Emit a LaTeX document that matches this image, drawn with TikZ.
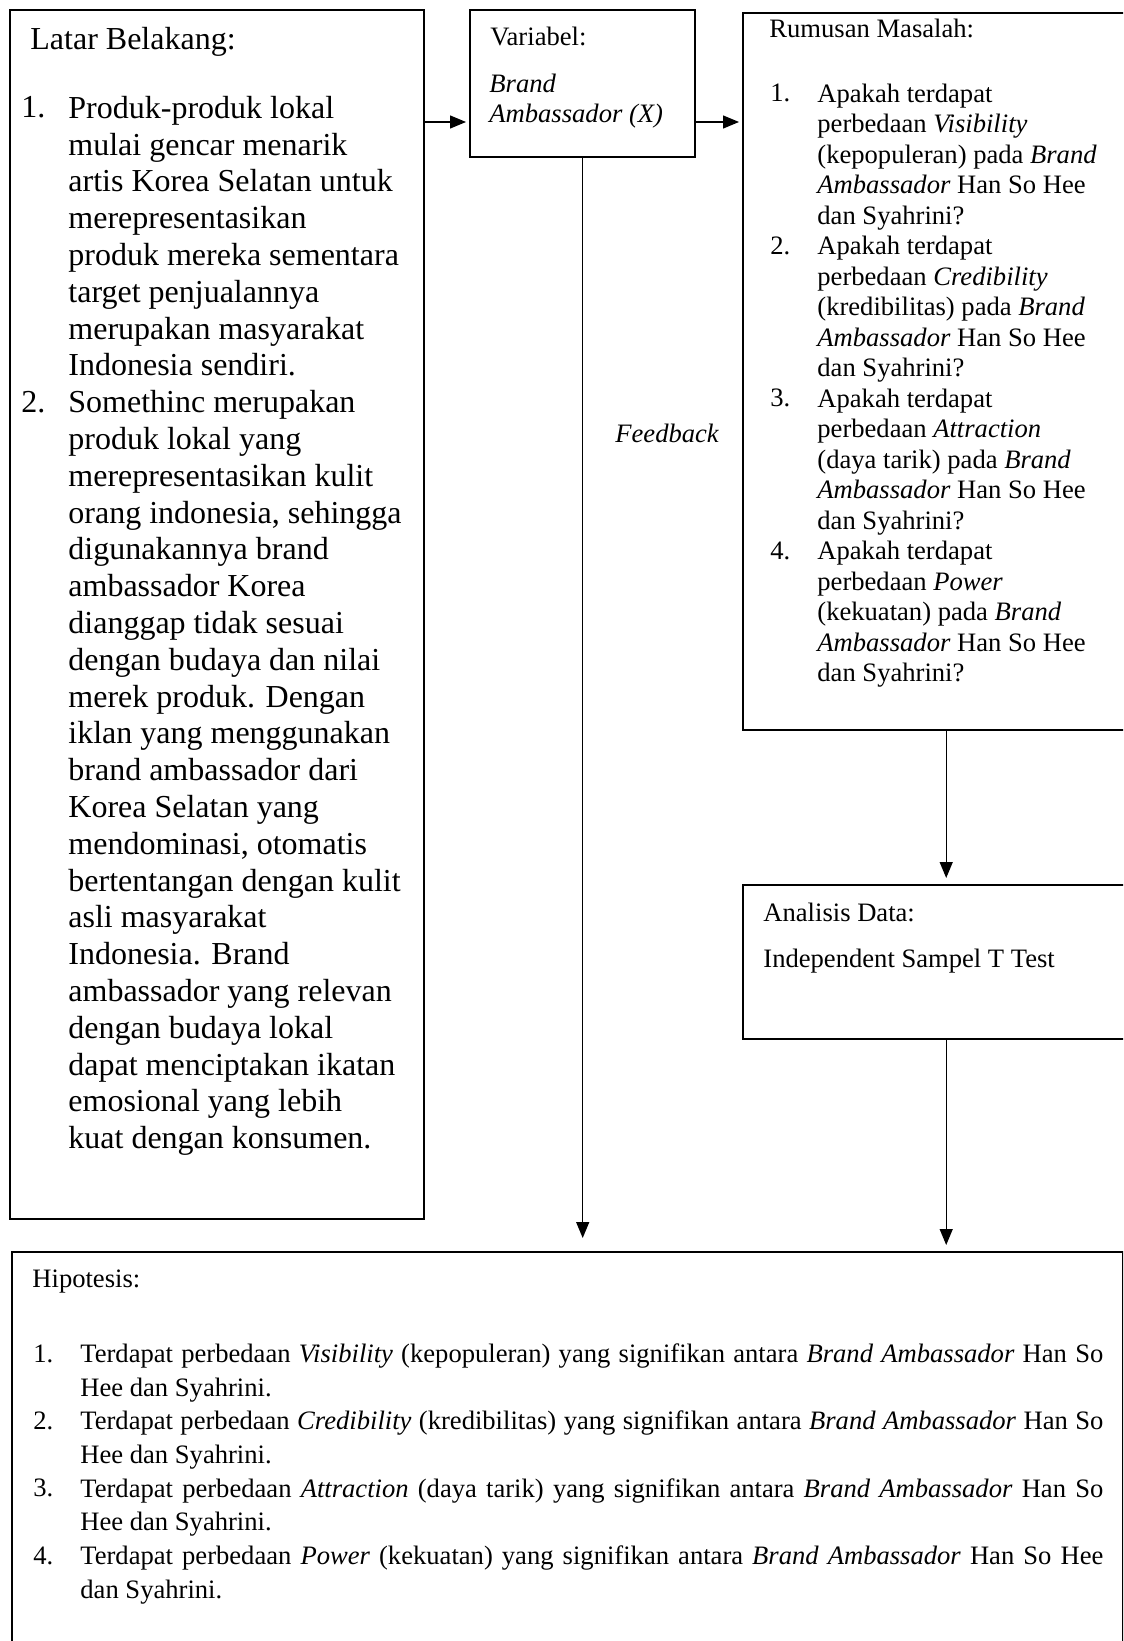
\documentclass[tikz,border=0pt]{standalone}
\usepackage{fontspec}
\setmainfont{Liberation Serif}
\usetikzlibrary{arrows.meta}

\newcommand\latarfont{\fontsize{16pt}{18.4pt}\selectfont}
\newcommand\isifont{\fontsize{13.3pt}{15.25pt}\selectfont}
\newcommand\hipofont{\fontsize{13.3pt}{16.85pt}\selectfont}
\newlength\hipw
\setlength\hipw{511.5pt}

\tikzset{
  kotak/.style={draw, line width=1.2pt, inner sep=0pt, anchor=north west},
  teks/.style={inner sep=0pt, align=left},
  panah/.style={line width=0.65pt, -{Triangle[length=8pt,width=6.5pt]}, shorten >=1.5pt},
}

\begin{document}
\begin{tikzpicture}[x=0.5pt, y=-0.5pt]
  \useasboundingbox (0,0) rectangle (1123,1641);
  \clip (0,0) rectangle (1123,1641);

  % kotak
  \node[kotak, minimum width=207pt, minimum height=604.5pt] (latar) at (9,9) {};
  \node[kotak, minimum width=112.5pt, minimum height=73.5pt] (var) at (469,9) {};
  \node[kotak, minimum width=203pt, minimum height=358.5pt] (rumusan) at (742,12) {};
  \node[kotak, minimum width=203pt, minimum height=77pt] (analisis) at (742,884) {};
  \node[kotak, minimum width=555.5pt, minimum height=214.5pt] (hipo) at (11,1251) {};

  % latar belakang
  \node[teks, anchor=base west, font=\latarfont] (judulLatar) at (30,50) {Latar Belakang:};
  \node[teks, anchor=base west, font=\latarfont] (noLatarA) at (21,118) {1.};
  \node[teks, anchor=north west, font=\latarfont] (latarA) at (68,92.2) {\strut Produk-produk lokal\\
    mulai gencar menarik\\ artis Korea Selatan untuk\\ merepresentasikan\\ produk mereka sementara\\
    target penjualannya\\ merupakan masyarakat\\ Indonesia sendiri.};
  \node[teks, anchor=base west, font=\latarfont] (noLatarB) at (21,412.4) {2.};
  \node[teks, anchor=north west, font=\latarfont] (latarB) at (68,386.6) {\strut Somethinc merupakan\\
    produk lokal yang\\ merepresentasikan kulit\\ orang indonesia, sehingga\\ digunakannya brand\\
    ambassador Korea\\ dianggap tidak sesuai\\ dengan budaya dan nilai\\ merek produk. Dengan\\
    iklan yang menggunakan\\ brand ambassador dari\\ Korea Selatan yang\\ mendominasi, otomatis\\
    bertentangan dengan kulit\\ asli masyarakat\\ Indonesia. Brand\\ ambassador yang relevan\\
    dengan budaya lokal\\ dapat menciptakan ikatan\\ emosional yang lebih\\ kuat dengan konsumen.};

  % variabel
  \node[teks, anchor=base west, font=\isifont] (judulVar) at (490,45.7) {Variabel:};
  \node[teks, anchor=north west, font=\isifont\itshape] (isiVar) at (489,70.4) {\strut Brand\\ Ambassador (X)};
  \node[teks, anchor=base west, font=\isifont\itshape] (fb) at (615,442.7) {Feedback};

  % rumusan masalah
  \node[teks, anchor=base west, font=\isifont] (judulRumusan) at (769,37.3) {Rumusan Masalah:};
  \node[teks, anchor=base west, font=\isifont] (noRmA) at (770,101.7) {1.};
  \node[teks, anchor=north west, font=\isifont] (rmA) at (817,80.35) {\strut Apakah terdapat\\
    perbedaan \textit{Visibility}\\ (kepopuleran) pada \textit{Brand}\\ \textit{Ambassador} Han So Hee\\ dan Syahrini?};
  \node[teks, anchor=base west, font=\isifont] (noRmB) at (770,254.2) {2.};
  \node[teks, anchor=north west, font=\isifont] (rmB) at (817,232.85) {\strut Apakah terdapat\\
    perbedaan \textit{Credibility}\\ (kredibilitas) pada \textit{Brand}\\ \textit{Ambassador} Han So Hee\\ dan Syahrini?};
  \node[teks, anchor=base west, font=\isifont] (noRmC) at (770,406.7) {3.};
  \node[teks, anchor=north west, font=\isifont] (rmC) at (817,385.35) {\strut Apakah terdapat\\
    perbedaan \textit{Attraction}\\ (daya tarik) pada \textit{Brand}\\ \textit{Ambassador} Han So Hee\\ dan Syahrini?};
  \node[teks, anchor=base west, font=\isifont] (noRmD) at (770,559.2) {4.};
  \node[teks, anchor=north west, font=\isifont] (rmD) at (817,537.85) {\strut Apakah terdapat\\
    perbedaan \textit{Power}\\ (kekuatan) pada \textit{Brand}\\ \textit{Ambassador} Han So Hee\\ dan Syahrini?};

  % analisis data
  \node[teks, anchor=base west, font=\isifont] (judulAnalisis) at (763,921) {Analisis Data:};
  \node[teks, anchor=base west, font=\isifont] (isiAnalisis) at (763,967) {Independent Sampel T Test};

  % hipotesis
  \node[teks, anchor=base west, font=\hipofont] (judulHipo) at (32,1287) {Hipotesis:};
  \node[teks, anchor=base west, font=\hipofont] (noHpA) at (33,1362) {1.};
  \node[teks, anchor=north west, font=\hipofont] (hpA) at (80,1338.4) {\strut\makebox[\hipw][s]{Terdapat
    perbedaan \textit{Visibility} (kepopuleran) yang signifikan antara \textit{Brand Ambassador} Han So}\\
    Hee dan Syahrini.};
  \node[teks, anchor=base west, font=\hipofont] (noHpB) at (33,1429.4) {2.};
  \node[teks, anchor=north west, font=\hipofont] (hpB) at (80,1405.8) {\strut\makebox[\hipw][s]{Terdapat
    perbedaan \textit{Credibility} (kredibilitas) yang signifikan antara \textit{Brand Ambassador} Han So}\\
    Hee dan Syahrini.};
  \node[teks, anchor=base west, font=\hipofont] (noHpC) at (33,1496.8) {3.};
  \node[teks, anchor=north west, font=\hipofont] (hpC) at (80,1473.2) {\strut\makebox[\hipw][s]{Terdapat
    perbedaan \textit{Attraction} (daya tarik) yang signifikan antara \textit{Brand Ambassador} Han So}\\
    Hee dan Syahrini.};
  \node[teks, anchor=base west, font=\hipofont] (noHpD) at (33,1564.2) {4.};
  \node[teks, anchor=north west, font=\hipofont] (hpD) at (80,1540.6) {\strut\makebox[\hipw][s]{Terdapat
    perbedaan \textit{Power} (kekuatan) yang signifikan antara \textit{Brand Ambassador} Han So Hee}\\
    dan Syahrini.};

  % panah
  \coordinate (varin) at (469,122);
  \draw[panah] (latar.east |- varin) -- (varin);
  \draw[panah] (var.east |- varin) -- (rumusan.west |- varin);
  \draw[panah, shorten >=6.5pt] (var.south) -- (var.south |- hipo.north);
  \draw[panah, shorten >=3pt] (rumusan.south) -- (analisis.north);
  \draw[panah, shorten >=3pt] (analisis.south) -- (analisis.south |- hipo.north);
\end{tikzpicture}
\end{document}
